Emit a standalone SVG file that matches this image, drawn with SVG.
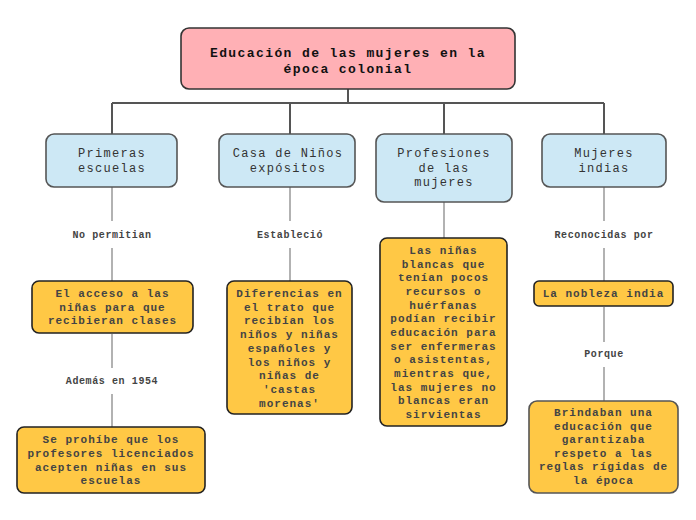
<svg xmlns="http://www.w3.org/2000/svg" width="696" height="520" viewBox="0 0 696 520">
<style>
text{font-family:"Liberation Mono","Courier New",monospace;text-anchor:middle}
.root rect{fill:#ffb0b5;stroke:#333;stroke-width:1.6}
.root text{font-size:13px;font-weight:bold;letter-spacing:1.4px;fill:#111}
.blue rect{fill:#cde8f5;stroke:#555;stroke-width:1.6}
.blue text{font-size:12px;letter-spacing:1.3px;fill:#333}
.org rect{fill:#ffc845;stroke:#222;stroke-width:1.6}
.org text{font-size:11px;font-weight:bold;letter-spacing:1px;fill:#444}
.lbl{font-size:10px;font-weight:bold;letter-spacing:0.6px;fill:#444}
.tree{stroke:#555;stroke-width:2;fill:none}
.gl{stroke:#999;stroke-width:1.5;fill:none}
</style>
<rect width="696" height="520" fill="#fff"/>
<g id="connectors">
<path class="tree" d="M348 89V103M112 103H604M112 103V134M290 103V134M444 103V134M604 103V134"/>
<path class="gl" d="M112 187V221M112 248V282M112 334V368M112 394V427M290 187V221M290 248V282M444 202V238M604 187V221M604 248V282M604 307V342M604 367V401"/>
<text class="lbl" x="112" y="237.5">No permitian</text>
<text class="lbl" x="112" y="383.5">Además en 1954</text>
<text class="lbl" x="290" y="237.5">Estableció</text>
<text class="lbl" x="604" y="237.5">Reconocidas por</text>
<text class="lbl" x="604" y="356.5">Porque</text>
</g>
<g id="root" class="root">
<rect x="181" y="28" width="334" height="61" rx="8"/>
<text x="348" y="56.5">Educación de las mujeres en la</text>
<text x="348" y="72.5">época colonial</text>
</g>
<g id="primeras" class="blue">
<rect x="46" y="134" width="131" height="53" rx="8"/>
<text x="112" y="157">Primeras</text>
<text x="112" y="172">escuelas</text>
</g>
<g id="casa" class="blue">
<rect x="219" y="134" width="136" height="53" rx="8"/>
<text x="288" y="157">Casa de Niños</text>
<text x="288" y="172">expósitos</text>
</g>
<g id="profesiones" class="blue">
<rect x="376" y="134" width="136" height="68" rx="8"/>
<text x="444" y="157">Profesiones</text>
<text x="444" y="171.5">de las</text>
<text x="444" y="186">mujeres</text>
</g>
<g id="indias" class="blue">
<rect x="542" y="134" width="124" height="53" rx="8"/>
<text x="604" y="157">Mujeres</text>
<text x="604" y="172">indias</text>
</g>
<g id="acceso" class="org">
<rect x="32" y="281" width="161" height="52" rx="7"/>
<text x="112.5" y="297">El acceso a las</text>
<text x="112.5" y="310.5">niñas para que</text>
<text x="112.5" y="324">recibieran clases</text>
</g>
<g id="prohibe" class="org">
<rect x="17" y="427" width="188" height="66" rx="7"/>
<text x="111" y="443">Se prohíbe que los</text>
<text x="111" y="457">profesores licenciados</text>
<text x="111" y="470.5">acepten niñas en sus</text>
<text x="111" y="484">escuelas</text>
</g>
<g id="diferencias" class="org">
<rect x="227" y="281" width="125" height="133" rx="7"/>
<text x="289.5" y="297">Diferencias en</text>
<text x="289.5" y="310.7">el trato que</text>
<text x="289.5" y="324.4">recibían los</text>
<text x="289.5" y="338.1">niños y niñas</text>
<text x="289.5" y="351.8">españoles y</text>
<text x="289.5" y="365.5">los niños y</text>
<text x="289.5" y="379.2">niñas de</text>
<text x="289.5" y="392.9">'castas</text>
<text x="289.5" y="406.6">morenas'</text>
</g>
<g id="ninas" class="org">
<rect x="380" y="238" width="127" height="188" rx="7"/>
<text x="443.5" y="254">Las niñas</text>
<text x="443.5" y="267.6">blancas que</text>
<text x="443.5" y="281.3">tenían pocos</text>
<text x="443.5" y="294.9">recursos o</text>
<text x="443.5" y="308.6">huérfanas</text>
<text x="443.5" y="322.2">podían recibir</text>
<text x="443.5" y="335.9">educación para</text>
<text x="443.5" y="349.5">ser enfermeras</text>
<text x="443.5" y="363.2">o asistentas,</text>
<text x="443.5" y="376.8">mientras que,</text>
<text x="443.5" y="390.5">las mujeres no</text>
<text x="443.5" y="404.1">blancas eran</text>
<text x="443.5" y="417.8">sirvientas</text>
</g>
<g id="nobleza" class="org">
<rect x="534" y="281" width="139" height="25" rx="5"/>
<text x="603.5" y="297">La nobleza india</text>
</g>
<g id="brindaban" class="org">
<rect x="529" y="401" width="149" height="92" rx="8" style="stroke:#555"/>
<text x="603.5" y="416">Brindaban una</text>
<text x="603.5" y="429.6">educación que</text>
<text x="603.5" y="443.2">garantizaba</text>
<text x="603.5" y="456.8">respeto a las</text>
<text x="603.5" y="470.4">reglas rígidas de</text>
<text x="603.5" y="484">la época</text>
</g>
</svg>
